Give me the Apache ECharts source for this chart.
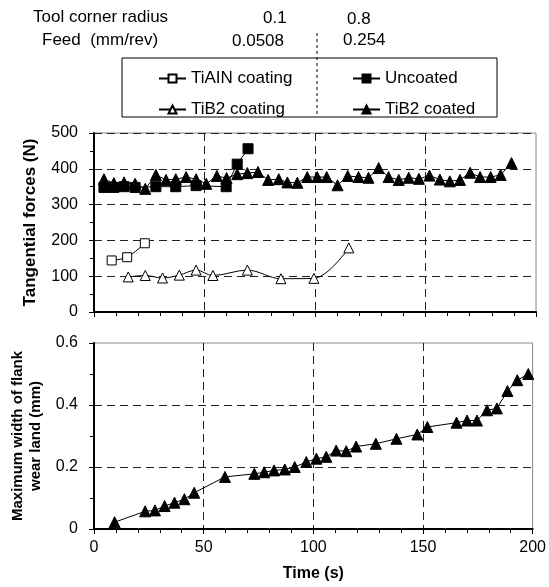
<!DOCTYPE html>
<html>
<head>
<meta charset="utf-8">
<script src="https://cdn.jsdelivr.net/npm/echarts@6/dist/echarts.min.js"></script>
<style>
html,body{margin:0;padding:0;background:#fff;}
#chart{width:549px;height:587px;}
</style>
</head>
<body>
<div id="chart"></div>
<script>
// ---- data ----
var tialnTime = [8, 15, 23];
var tialnForce = [144, 153, 192];

var uncoatedTime = [4.5, 9, 13.6, 18.6, 28, 37, 46.2, 59.8, 64.8, 69.7];
var uncoatedForce = [348, 348, 350, 348, 350, 350, 353, 350, 413, 456];

var tib2CoatingTime = [15.5, 23.2, 31, 38.6, 46.2, 53.8, 69.4, 84.6, 99.5, 115.3];
var tib2CoatingForce = [98, 102, 95, 103, 117, 102, 117, 93, 94, 179];

var tib2CoatedTime = [4.5, 9, 13.6, 18.6, 23.2, 28, 32.6, 37, 41.7, 46.2, 50.8, 55.6, 60, 64.8, 69.4, 74.2, 78.8, 83.6, 87.5, 92,
  96.5, 101, 105.3, 110.2, 114.8, 119.7, 124.2, 128.8, 133.3, 137.9, 142.4, 147, 151.8, 156.5, 161, 165.6, 170.2, 174.7, 179.5, 184, 188.9];
var tib2CoatedForce = [371, 360, 362, 358, 344, 383, 369, 371, 377, 371, 358, 380, 374, 385, 388, 391, 369, 371, 362, 361,
  377, 377, 377, 354, 380, 377, 375, 402, 377, 369, 375, 372, 381, 370, 365, 369, 389, 377, 377, 383, 416];

var wearTime = [9.4, 23.3, 27.8, 32.2, 36.7, 41.2, 45.7, 59.7, 73.1, 77.6, 82.1, 87, 91.5, 96.8, 101.4, 105.9, 110.4, 115, 119.5,
  128.5, 137.9, 147.4, 152, 165.3, 170.1, 174.6, 179.2, 183.7, 188.5, 193, 198];
var wearWidth = [0.022, 0.057, 0.06, 0.074, 0.085, 0.096, 0.117, 0.168, 0.178, 0.183, 0.189, 0.192, 0.2, 0.216, 0.227, 0.233, 0.253, 0.251, 0.266,
  0.275, 0.291, 0.305, 0.329, 0.343, 0.35, 0.35, 0.383, 0.389, 0.445, 0.48, 0.5];

var forceTicks = {min: 0, max: 500, interval: 100};
var wearTicks = {min: 0, max: 0.6, interval: 0.2};
var timeTicks = {min: 0, max: 200, interval: 50};

function pairs(xs, ys) { return xs.map(function (x, i) { return [x, ys[i]]; }); }

var FONT = 'Liberation Sans, Arial, sans-serif';
var chart = echarts.init(document.getElementById('chart'), null, {renderer: 'canvas'});

function xAxisCfg(gridIndex, showLabels) {
  return {
    type: 'value', gridIndex: gridIndex,
    min: timeTicks.min, max: timeTicks.max, interval: timeTicks.interval,
    axisLine: {show: true, onZero: false, lineStyle: {color: '#000', width: 2}},
    axisTick: {show: true, inside: false, length: 5, lineStyle: {color: '#000', width: 1}},
    minorTick: {show: true, splitNumber: 5, length: 4, lineStyle: {color: '#000', width: 1}},
    axisLabel: {show: showLabels, color: '#000', fontFamily: FONT, fontSize: 16, margin: 11},
    splitLine: {show: true, showMinLine: false, showMaxLine: false, lineStyle: {color: '#222', type: [8, 5], width: 1}},
    name: showLabels ? 'Time (s)' : '',
    nameLocation: 'middle', nameGap: 37,
    nameTextStyle: {color: '#000', fontFamily: FONT, fontSize: 16, fontWeight: 'bold'}
  };
}

function yAxisCfg(gridIndex, ticks, name, gap, maxLine, nameSize) {
  return {
    type: 'value', gridIndex: gridIndex,
    min: ticks.min, max: ticks.max, interval: ticks.interval,
    axisLine: {show: true, onZero: false, lineStyle: {color: '#000', width: 2}},
    axisTick: {show: true, inside: false, length: 5, lineStyle: {color: '#000', width: 1}},
    minorTick: {show: true, splitNumber: 2, length: 4, lineStyle: {color: '#000', width: 1}},
    axisLabel: {color: '#000', fontFamily: FONT, fontSize: 16, margin: 16},
    splitLine: {show: true, showMinLine: false, showMaxLine: maxLine, lineStyle: {color: '#222', type: [8, 5], width: 1}},
    name: name, nameLocation: 'middle', nameGap: gap,
    nameTextStyle: {color: '#000', fontFamily: FONT, fontSize: nameSize, fontWeight: 'bold', lineHeight: nameSize + 3}
  };
}

function lineSeries(name, data, symbol, size, open, xi, yi, smooth) {
  return {
    name: name, type: 'line', xAxisIndex: xi, yAxisIndex: yi, data: data,
    symbol: symbol, symbolSize: size, showAllSymbol: true, smooth: smooth, animation: false,
    lineStyle: {color: '#000', width: 1},
    itemStyle: open ? {color: '#fff', borderColor: '#000', borderWidth: 1} : {color: '#000', borderColor: '#000', borderWidth: 1},
    emphasis: {disabled: true}
  };
}

var legendText = {color: '#000', fontFamily: FONT, fontSize: 17};
var hdr = '17px ' + FONT;

chart.setOption({
  backgroundColor: '#fff',
  animation: false,
  grid: [
    {left: 94, top: 133, width: 442, height: 179, show: true, borderColor: '#888', borderWidth: 1, containLabel: false},
    {left: 94, top: 343, width: 442, height: 186, show: true, borderColor: '#888', borderWidth: 1, containLabel: false}
  ],
  legend: [
    {data: ['TiAIN coating', 'TiB2 coating'], orient: 'vertical', left: 153, top: 65, itemWidth: 27, itemHeight: 10, itemGap: 14,
      textStyle: legendText, selectedMode: false},
    {data: ['Uncoated', 'TiB2 coated'], orient: 'vertical', left: 347, top: 65, itemWidth: 27, itemHeight: 10, itemGap: 14,
      textStyle: legendText, selectedMode: false}
  ],
  xAxis: [xAxisCfg(0, false), xAxisCfg(1, true)],
  yAxis: [
    yAxisCfg(0, forceTicks, 'Tangential forces (N)', 51, true, 17),
    yAxisCfg(1, wearTicks, 'Maximum width of flank\nwear land (mm)', 36, false, 15)
  ],
  series: [
    lineSeries('TiAIN coating', pairs(tialnTime, tialnForce), 'rect', 9, true, 0, 0, 0.3),
    lineSeries('Uncoated', pairs(uncoatedTime, uncoatedForce), 'rect', 10, false, 0, 0, false),
    lineSeries('TiB2 coating', pairs(tib2CoatingTime, tib2CoatingForce), 'triangle', 10, true, 0, 0, 0.35),
    lineSeries('TiB2 coated', pairs(tib2CoatedTime, tib2CoatedForce), 'triangle', 11, false, 0, 0, false),
    lineSeries('TiB2 coated', pairs(wearTime, wearWidth), 'triangle', 11, false, 1, 1, false)
  ],
  graphic: [
    {type: 'text', left: 33, top: 9, style: {text: 'Tool corner radius', fill: '#000', font: hdr}},
    {type: 'text', left: 263, top: 9.6, style: {text: '0.1', fill: '#000', font: hdr}},
    {type: 'text', left: 347, top: 11.3, style: {text: '0.8', fill: '#000', font: hdr}},
    {type: 'text', left: 42, top: 31.6, style: {text: 'Feed  (mm/rev)', fill: '#000', font: hdr}},
    {type: 'text', left: 232, top: 33.3, style: {text: '0.0508', fill: '#000', font: hdr}},
    {type: 'text', left: 343, top: 31.6, style: {text: '0.254', fill: '#000', font: hdr}},
    {type: 'rect', shape: {x: 122, y: 58, width: 375, height: 59}, style: {fill: 'none', stroke: '#000', lineWidth: 1}, z: 1},
    {type: 'line', shape: {x1: 317, y1: 33, x2: 317, y2: 117}, style: {stroke: '#000', lineWidth: 1, lineDash: [3, 3]}, z: 1}
  ]
});
</script>
</body>
</html>
